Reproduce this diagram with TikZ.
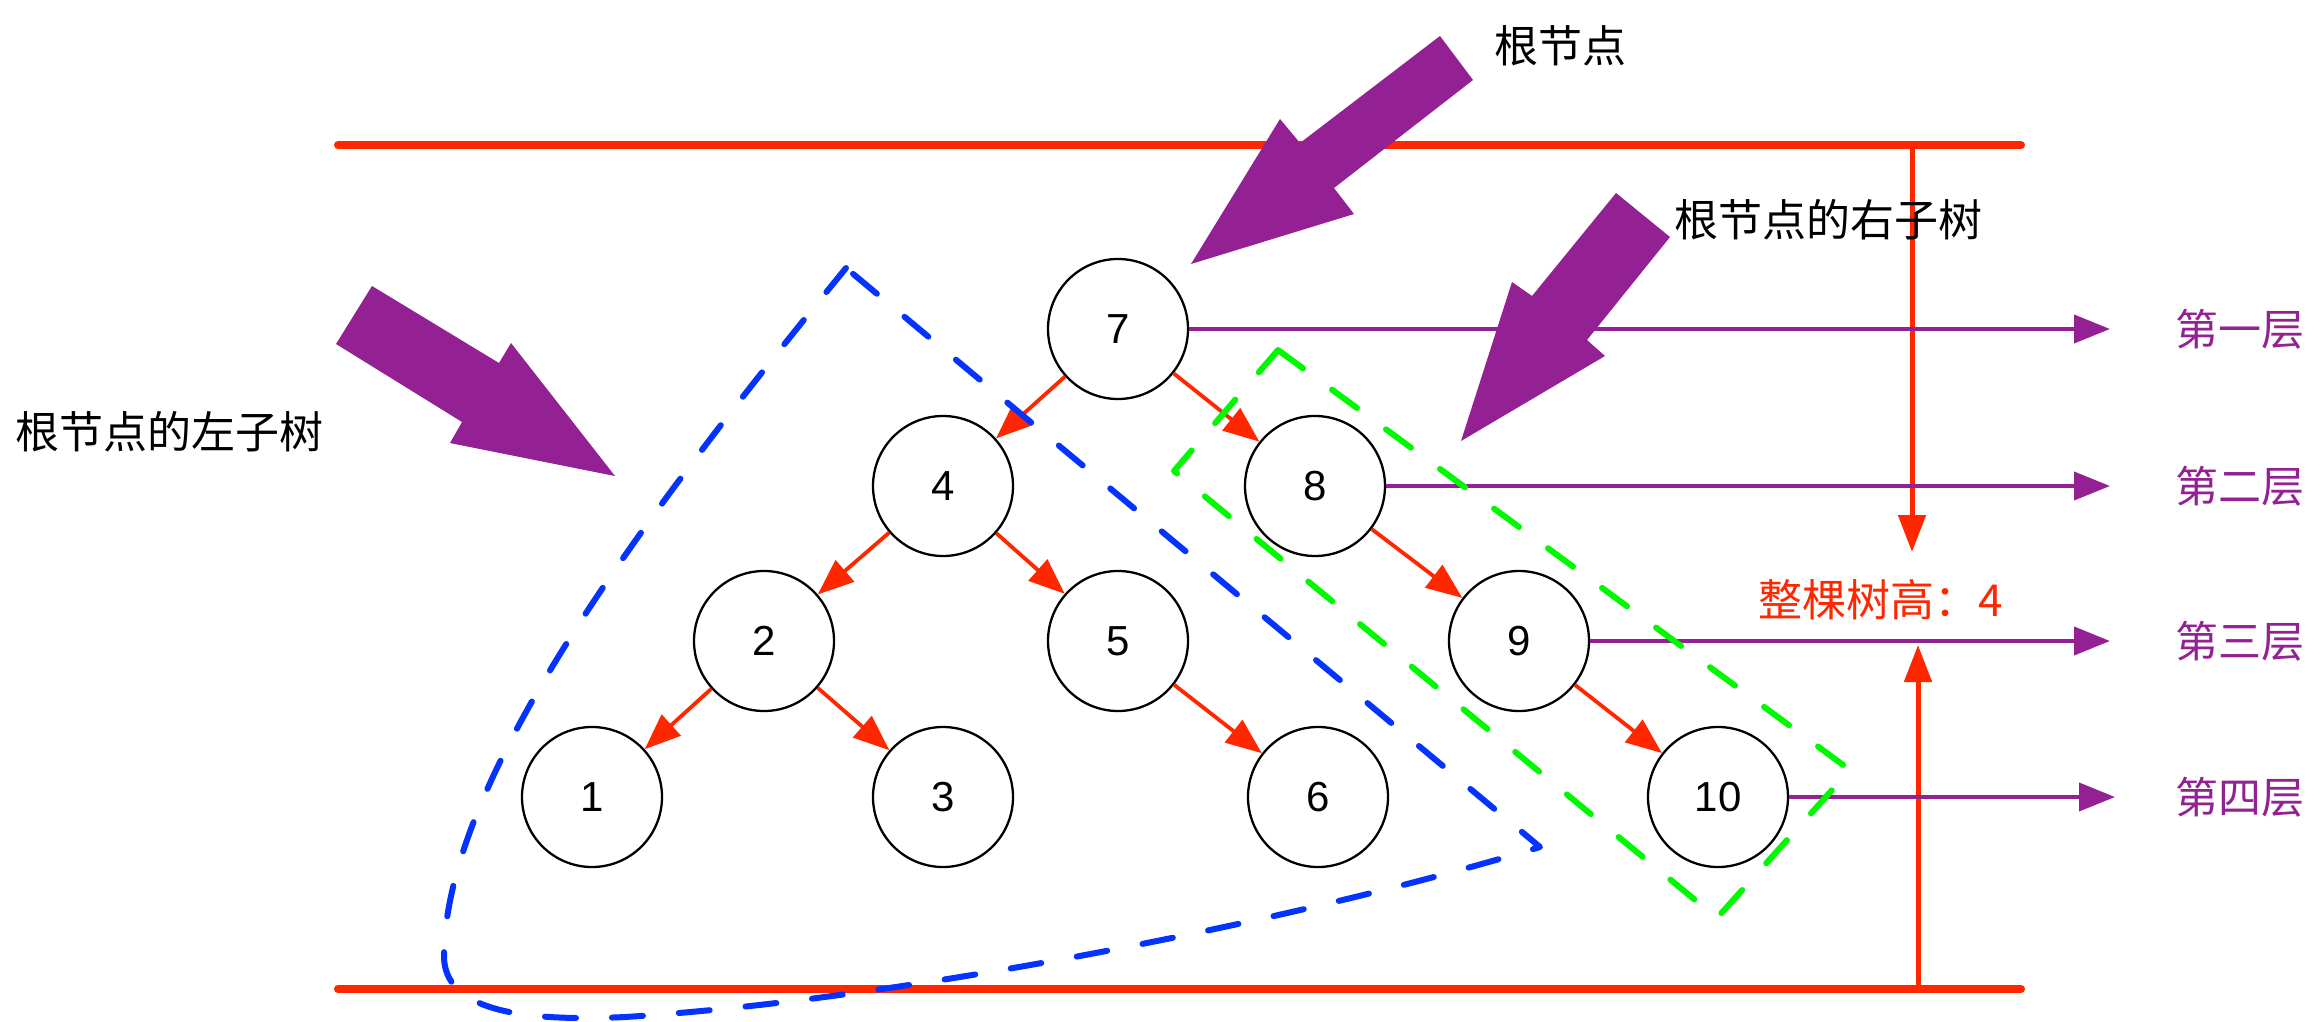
\documentclass[tikz,border=0pt]{standalone}
\usepackage{fontspec}
\setmainfont{Liberation Sans}
\newfontfamily\cjk{Noto Sans CJK SC}
\usetikzlibrary{arrows.meta}
\definecolor{myred}{HTML}{FF2600}
\definecolor{mypurple}{HTML}{942193}
\definecolor{myblue}{HTML}{0433FF}
\definecolor{mygreen}{HTML}{00F900}
\begin{document}
\begin{tikzpicture}[x=1pt,y=-1pt,
  tnode/.style={circle, draw=black, line width=2.3pt, minimum size=140pt, inner sep=0pt, font=\fontsize{42}{48}\selectfont},
  tedge/.style={draw=myred, line width=3.8pt, -{Triangle[length=36pt,width=28pt]}},
  lvl/.style={draw=mypurple, line width=4pt, -{Triangle[length=36pt,width=28pt]}},
  lvltext/.style={text=mypurple, font=\cjk\fontsize{43}{48}\selectfont},
  lbltext/.style={font=\cjk\fontsize{44}{50}\selectfont, inner sep=0pt},
  bigarrow/.style={fill=mypurple, draw=none},
  bound/.style={draw=myred, line width=8pt, line cap=round},
  harrow/.style={draw=myred, line width=5pt, -{Triangle[length=37pt,width=27pt]}},
  bluedash/.style={draw=myblue, line width=6pt, line cap=round, line join=round, dash pattern=on 31pt off 36pt},
  greendash/.style={draw=mygreen, line width=6pt, line cap=round, line join=round, dash pattern=on 31pt off 36pt}
]
\useasboundingbox (0,0) rectangle (2322,1022);

% boundary lines
\coordinate (tl) at (338,145);
\coordinate (tr) at (2021,145);
\coordinate (bl) at (338,989);
\coordinate (br) at (2021,989);
\draw[bound] (tl) -- (tr);
\draw[bound] (bl) -- (br);

% height arrows
\coordinate (dtop) at (1912,145);
\coordinate (dtip) at (1912,552);
\coordinate (ubot) at (1918,989);
\coordinate (utip) at (1918,645);
\draw[harrow] (dtop) -- (dtip);
\draw[harrow] (ubot) -- (utip);

% tree nodes
\node[tnode] (n7) at (1118,329) {7};
\node[tnode] (n4) at (943,486) {4};
\node[tnode] (n8) at (1315,486) {8};
\node[tnode] (n2) at (764,641) {2};
\node[tnode] (n5) at (1118,641) {5};
\node[tnode] (n9) at (1519,641) {9};
\node[tnode] (n1) at (592,797) {1};
\node[tnode] (n3) at (943,797) {3};
\node[tnode] (n6) at (1318,797) {6};
\node[tnode] (n10) at (1718,797) {10};

% edges
\draw[tedge] (n7) -- (n4);
\draw[tedge] (n7) -- (n8);
\draw[tedge] (n4) -- (n2);
\draw[tedge] (n4) -- (n5);
\draw[tedge] (n2) -- (n1);
\draw[tedge] (n2) -- (n3);
\draw[tedge] (n5) -- (n6);
\draw[tedge] (n8) -- (n9);
\draw[tedge] (n9) -- (n10);

% level arrows
\coordinate (l1) at (2110,329);
\coordinate (l2) at (2110,486);
\coordinate (l3) at (2110,641);
\coordinate (l4) at (2115,797);
\draw[lvl] (n7.east) -- (l1);
\draw[lvl] (n8.east) -- (l2);
\draw[lvl] (n9.east) -- (l3);
\draw[lvl] (n10.east) -- (l4);
\node[lvltext] (t1) at (2240,329) {第一层};
\node[lvltext] (t2) at (2240,486) {第二层};
\node[lvltext] (t3) at (2240,641) {第三层};
\node[lvltext] (t4) at (2240,797) {第四层};

% big arrows
\fill[bigarrow] (1440,36) -- (1473,80) -- (1334,188) -- (1354,214) -- (1191,264) -- (1280,119) -- (1300,143) -- cycle;
\fill[bigarrow] (1616,193) -- (1670,237) -- (1587,340) -- (1605,356) -- (1461,441) -- (1512,282) -- (1532,296) -- cycle;
\fill[bigarrow] (372,286) -- (336,344) -- (462,422) -- (450,443) -- (615,476) -- (511,343) -- (499,363) -- cycle;

% labels
\node[lbltext] (root) at (1560,46) {根节点};
\node[lbltext] (rsub) at (1828,220) {根节点的右子树};
\node[lbltext] (lsub) at (170,432) {根节点的左子树};
\node[lbltext, text=myred] (height) at (1881,600) {整棵树高：4};

% subtree outlines
\draw[bluedash] (846,268) .. controls (640,520) and (446,780) .. (444,955)
  .. controls (443,1010) and (520,1022) .. (625,1017)
  .. controls (900,1000) and (1300,920) .. (1540,847) -- cycle;
\draw[greendash] (1278,350) -- (1850,770) -- (1717,918) -- (1174,471) -- cycle;
\end{tikzpicture}
\end{document}
